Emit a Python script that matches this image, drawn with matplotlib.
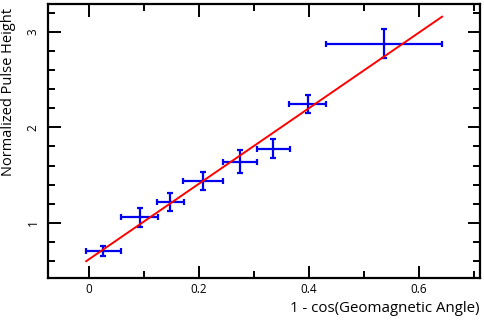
import matplotlib
matplotlib.use("Agg")
import matplotlib.pyplot as plt
from matplotlib.ticker import MultipleLocator, FuncFormatter

plt.rcParams['font.family'] = ['Open Sans', 'DejaVu Sans']

x = [0.025, 0.092, 0.148, 0.207, 0.275, 0.335, 0.398, 0.536]
y = [0.707, 1.06, 1.22, 1.44, 1.64, 1.775, 2.245, 2.875]
x_err_lo = [0.030, 0.034, 0.024, 0.036, 0.031, 0.030, 0.034, 0.105]
x_err_hi = [0.033, 0.033, 0.024, 0.036, 0.030, 0.030, 0.033, 0.106]
y_err = [0.05, 0.10, 0.09, 0.095, 0.12, 0.10, 0.095, 0.155]
fit_x = [-0.005, 0.642]
fit_y = [0.60, 3.157]

fig = plt.figure(figsize=(4.84, 3.2), dpi=100)
ax = fig.add_axes([48/484, 1 - 278/320, (480 - 48)/484, (278 - 4)/320])

ax.plot(fit_x, fit_y, color='#ff0000', lw=1.4, zorder=3)
ax.errorbar(x, y, xerr=[x_err_lo, x_err_hi], yerr=y_err, fmt='none',
            ecolor='#0000ee', elinewidth=1.6, capsize=2.5, capthick=1.6, zorder=2)

ax.set_xlim(-0.0745, 0.711)
ax.set_ylim(0.424, 3.29)
ax.xaxis.set_major_locator(MultipleLocator(0.2))
ax.xaxis.set_minor_locator(MultipleLocator(0.1))
ax.yaxis.set_major_locator(MultipleLocator(1))
ax.yaxis.set_minor_locator(MultipleLocator(0.2))
ax.xaxis.set_major_formatter(FuncFormatter(lambda v, p: '0' if abs(v) < 1e-9 else f'{v:g}'))
ax.tick_params(which='both', direction='in', top=True, right=True, width=1.4, labelsize=8.5, color='black')
ax.tick_params(which='major', length=9)
ax.tick_params(which='minor', length=5)
ax.tick_params(axis='y', which='both', labelrotation=90, pad=6)
for lbl in ax.get_yticklabels():
    lbl.set_va('center')
for s in ax.spines.values():
    s.set_linewidth(1.6)

ax.set_ylabel('Normalized Pulse Height', fontsize=10.5)
ax.yaxis.set_label_coords(-0.075, 0.68)
ax.set_xlabel('1 - cos(Geomagnetic Angle)', fontsize=10.8, loc='right', labelpad=4)

fig.savefig('out.png', dpi=100)
